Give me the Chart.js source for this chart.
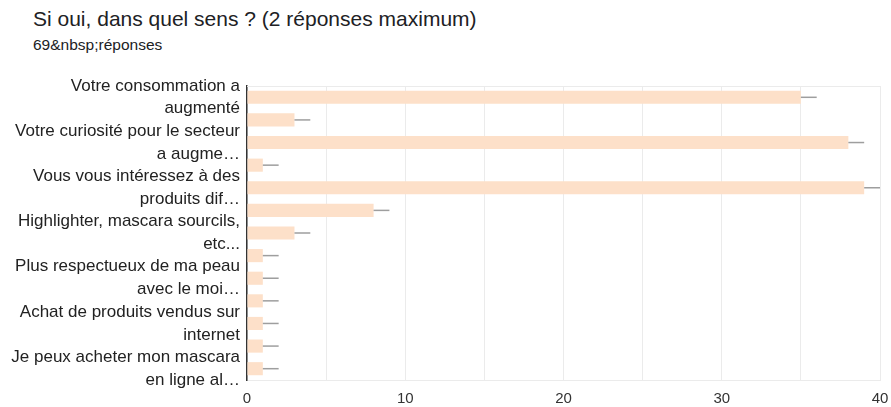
<!DOCTYPE html>
<html>
<head>
<meta charset="utf-8">
<script src="https://cdn.jsdelivr.net/npm/chart.js@4"></script>
<style>
  body { margin: 0; background: #fff; font-family: 'Liberation Sans', Arial, sans-serif; }
  #title { position: absolute; left: 33px; top: 7px; font-size: 21px; color: #202124; }
  #sub { position: absolute; left: 33px; top: 36px; font-size: 15.5px; color: #202124; }
  #wrap { position: absolute; left: 0; top: 70px; width: 891px; height: 337px; }
</style>
</head>
<body>
<div id="title">Si oui, dans quel sens ? (2 réponses maximum)</div>
<div id="sub">69&amp;nbsp;réponses</div>
<div id="wrap"><canvas id="chart"></canvas></div>
<script>
const categories = [
  ['Votre consommation a', 'augmenté'],
  'Autre réponse 2',
  ['Votre curiosité pour le secteur', 'a augme…'],
  'Autre réponse 4',
  ['Vous vous intéressez à des', 'produits dif…'],
  'Autre réponse 6',
  ['Highlighter, mascara sourcils,', 'etc...'],
  'Autre réponse 8',
  ['Plus respectueux de ma peau', 'avec le moi…'],
  'Autre réponse 10',
  ['Achat de produits vendus sur', 'internet'],
  'Autre réponse 12',
  ['Je peux acheter mon mascara', 'en ligne al…'],
];
const counts = [35, 3, 38, 1, 39, 8, 3, 1, 1, 1, 1, 1, 1];
const errors = [1, 1, 1, 1, 1, 1, 1, 1, 1, 1, 1, 1, 1];
const xTicks = [0, 10, 20, 30, 40];

const errorBars = {
  id: 'errorBars',
  afterDatasetsDraw(chart) {
    const ctx = chart.ctx;
    const xs = chart.scales.x;
    const meta = chart.getDatasetMeta(0);
    ctx.save();
    ctx.strokeStyle = '#9e9e9e';
    ctx.lineWidth = 1.5;
    meta.data.forEach((bar, i) => {
      const v = counts[i];
      ctx.beginPath();
      ctx.moveTo(xs.getPixelForValue(v), bar.y);
      ctx.lineTo(xs.getPixelForValue(v + errors[i]), bar.y);
      ctx.stroke();
    });
    ctx.restore();
  }
};

const topLine = {
  id: 'topLine',
  beforeDatasetsDraw(chart) {
    const a = chart.chartArea;
    const ctx = chart.ctx;
    ctx.save();
    ctx.strokeStyle = '#ebebeb';
    ctx.lineWidth = 1;
    ctx.beginPath();
    ctx.moveTo(a.left, a.top + 0.5);
    ctx.lineTo(a.right, a.top + 0.5);
    ctx.stroke();
    ctx.restore();
  }
};

new Chart(document.getElementById('chart'), {
  type: 'bar',
  data: {
    labels: categories,
    datasets: [{
      data: counts,
      backgroundColor: '#fde0c9',
      categoryPercentage: 1,
      barPercentage: 0.58,
    }]
  },
  options: {
    indexAxis: 'y',
    responsive: true,
    maintainAspectRatio: false,
    animation: false,
    layout: { padding: { top: 16, right: 11, left: 0, bottom: 0 } },
    plugins: {
      legend: { display: false },
      tooltip: { enabled: false },
    },
    scales: {
      x: {
        min: 0,
        max: 40,
        afterFit(s) { s.height = 27; s.paddingLeft = 0; s.paddingRight = 0; },
        ticks: {
          stepSize: 5,
          padding: 10,
          color: '#333',
          font: { family: "'Liberation Sans', Arial", size: 15 },
          callback: (v) => xTicks.includes(v) ? v : '',
        },
        grid: { color: '#ebebeb', drawTicks: false },
        border: { color: '#ebebeb' },
      },
      y: {
        afterFit(s) { s.width = 247; s.paddingTop = 0; s.paddingBottom = 0; },
        ticks: {
          autoSkip: false,
          padding: 7,
          color: '#222',
          font: { family: "'Liberation Sans', Arial", size: 17, lineHeight: 1.35 },
          callback(v, i) { return i % 2 === 0 ? this.getLabelForValue(v) : ''; },
        },
        grid: { display: false, drawTicks: false },
        border: { color: '#333', width: 1.5 },
      }
    }
  },
  plugins: [errorBars, topLine]
});
</script>
</body>
</html>
